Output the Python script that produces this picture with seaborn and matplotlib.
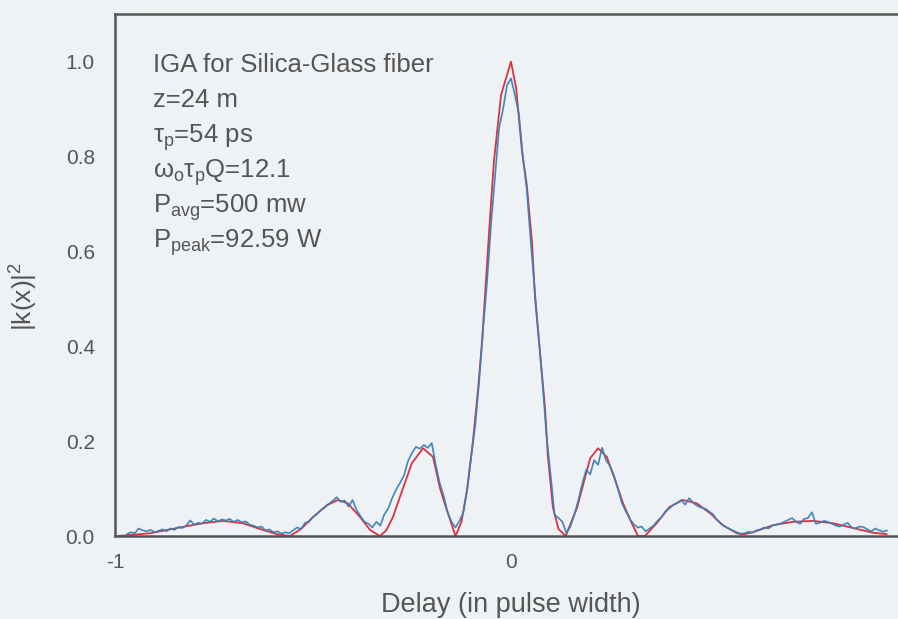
import numpy as np
import pandas as pd
import seaborn as sns
import matplotlib.pyplot as plt

sns.set_style("white")
plt.rcParams['font.family'] = ['Liberation Sans', 'DejaVu Sans']
plt.rcParams['mathtext.fontset'] = 'custom'
plt.rcParams['mathtext.rm'] = 'Liberation Sans'
plt.rcParams['mathtext.it'] = 'Liberation Sans'
plt.rcParams['mathtext.bf'] = 'Liberation Sans:bold'

# theory curve (red)
red_x = [-0.995, -0.95, -0.91, -0.843, -0.778, -0.727, -0.677, -0.634, -0.591, -0.558,
         -0.53, -0.5, -0.465, -0.437, -0.412, -0.381, -0.356, -0.331, -0.315, -0.298,
         -0.273, -0.25, -0.222, -0.197, -0.179, -0.162, -0.14, -0.125, -0.111, -0.096,
         -0.083, -0.073, -0.066, -0.053, -0.043, -0.025, 0.0, 0.013, 0.028, 0.04,
         0.053, 0.061, 0.073, 0.086, 0.093, 0.106, 0.12, 0.138, 0.167, 0.192,
         0.20, 0.22, 0.242, 0.263, 0.283, 0.305, 0.321, 0.338, 0.368, 0.40,
         0.434, 0.469, 0.503, 0.535, 0.57, 0.585, 0.611, 0.662, 0.712, 0.763,
         0.813, 0.864, 0.914, 0.949]
red_y = [0.0, 0.003, 0.006, 0.017, 0.027, 0.032, 0.027, 0.015, 0.004, 0.0,
         0.015, 0.04, 0.065, 0.076, 0.069, 0.04, 0.013, 0.0, 0.012, 0.04,
         0.10, 0.154, 0.185, 0.167, 0.10, 0.055, 0.0, 0.03, 0.097, 0.20,
         0.31, 0.41, 0.50, 0.67, 0.79, 0.93, 1.0, 0.945, 0.81, 0.74,
         0.62, 0.50, 0.39, 0.27, 0.17, 0.06, 0.015, 0.0, 0.06, 0.139,
         0.164, 0.185, 0.167, 0.118, 0.069, 0.027, 0.0, 0.0, 0.027, 0.061,
         0.076, 0.069, 0.048, 0.023, 0.006, 0.003, 0.008, 0.023, 0.03, 0.032,
         0.027, 0.017, 0.007, 0.004]

# measured trace (blue), one value every 0.01 from -0.97 to 0.95
blue_start = -0.97
blue_step = 0.01
blue_y = [0.004, 0.008, 0.006, 0.016, 0.012, 0.010, 0.013, 0.008, 0.011, 0.014,
          0.010, 0.016, 0.013, 0.019, 0.017, 0.022, 0.033, 0.024, 0.028, 0.026,
          0.034, 0.030, 0.037, 0.031, 0.035, 0.033, 0.036, 0.030, 0.034, 0.029,
          0.031, 0.024, 0.022, 0.018, 0.020, 0.012, 0.014, 0.008, 0.010, 0.005,
          0.008, 0.006, 0.012, 0.018, 0.015, 0.028, 0.030, 0.040, 0.046, 0.055,
          0.060, 0.068, 0.074, 0.082, 0.072, 0.075, 0.062, 0.076, 0.055, 0.042,
          0.030, 0.026, 0.018, 0.030, 0.022, 0.045, 0.058, 0.080, 0.098, 0.112,
          0.128, 0.158, 0.175, 0.188, 0.184, 0.192, 0.186, 0.196, 0.150, 0.112,
          0.085, 0.050, 0.030, 0.018, 0.032, 0.050, 0.100, 0.170, 0.235, 0.330,
          0.440, 0.540, 0.660, 0.760, 0.860, 0.900, 0.950, 0.965, 0.930, 0.890,
          0.800, 0.730, 0.620, 0.520, 0.420, 0.320, 0.210, 0.130, 0.045, 0.038,
          0.030, 0.006, 0.020, 0.045, 0.075, 0.110, 0.140, 0.130, 0.160, 0.150,
          0.186, 0.160, 0.148, 0.128, 0.100, 0.070, 0.052, 0.036, 0.025, 0.018,
          0.020, 0.010, 0.016, 0.022, 0.032, 0.040, 0.052, 0.058, 0.066, 0.070,
          0.076, 0.066, 0.080, 0.070, 0.064, 0.060, 0.058, 0.052, 0.046, 0.034,
          0.026, 0.020, 0.016, 0.012, 0.008, 0.005, 0.006, 0.009, 0.007, 0.012,
          0.014, 0.018, 0.016, 0.022, 0.024, 0.026, 0.030, 0.034, 0.038, 0.030,
          0.026, 0.036, 0.038, 0.050, 0.026, 0.028, 0.032, 0.030, 0.026, 0.022,
          0.020, 0.024, 0.028, 0.018, 0.016, 0.020, 0.019, 0.014, 0.010, 0.016,
          0.012, 0.009, 0.012]

info_lines = ["IGA for Silica-Glass fiber",
              "z=24 m",
              r"$\tau_p$=54 ps",
              r"$\omega_o\tau_p$Q=12.1",
              r"$P_{avg}$=500 mw",
              r"$P_{peak}$=92.59 W"]

red = pd.DataFrame({"x": red_x, "y": red_y})
blue = pd.DataFrame({"x": blue_start + blue_step * np.arange(len(blue_y)), "y": blue_y})

paper = "#eef2f5"
ink = "#555555"

fig = plt.figure(figsize=(8.98, 6.19), dpi=100, facecolor=paper)
ax = fig.add_axes([0.128, 0.134, 0.882, 0.843])
ax.set_facecolor(paper)

sns.lineplot(data=red, x="x", y="y", ax=ax, color="#d8333f", linewidth=1.3, estimator=None, sort=False)
sns.lineplot(data=blue, x="x", y="y", ax=ax, color="#3a80b4", linewidth=1.2, estimator=None, sort=False, alpha=0.95)

ax.set_xlim(-1, 1)
ax.set_ylim(0, 1.1)
ax.set_xticks([-1, 0])
ax.set_xticklabels(["-1", "0"])
ax.set_xticks([-0.5, 0.5], minor=True)
ax.set_yticks([0, 0.2, 0.4, 0.6, 0.8, 1.0])
ax.set_yticklabels(["0.0", "0.2", "0.4", "0.6", "0.8", "1.0"])
ax.set_yticks([0.1, 0.3, 0.5, 0.7, 0.9], minor=True)

ax.tick_params(axis="both", which="major", direction="out", length=8.5, width=1.4,
               colors=ink, labelsize=15, pad=6)
ax.tick_params(axis="both", which="minor", direction="out", length=4.5, width=1.2, colors=ink)
ax.tick_params(axis="x", which="major", pad=4)
for side in ["left", "bottom", "top"]:
    ax.spines[side].set_color(ink)
    ax.spines[side].set_linewidth(1.8)
ax.spines["right"].set_visible(False)

ax.set_xlabel("Delay (in pulse width)", fontsize=19.5, color=ink, labelpad=14)
ax.set_ylabel(r"$|k(x)|^2$", fontsize=19, color=ink)
ax.yaxis.set_label_coords(-0.095, 0.46)

line_y = [0.979, 0.905, 0.829, 0.756, 0.682, 0.608]
for txt, yy in zip(info_lines, line_y):
    ax.text(-0.905, yy, txt, fontsize=18.5, color=ink, va="baseline", ha="left")

fig.savefig("out.png", dpi=100, facecolor=paper)
